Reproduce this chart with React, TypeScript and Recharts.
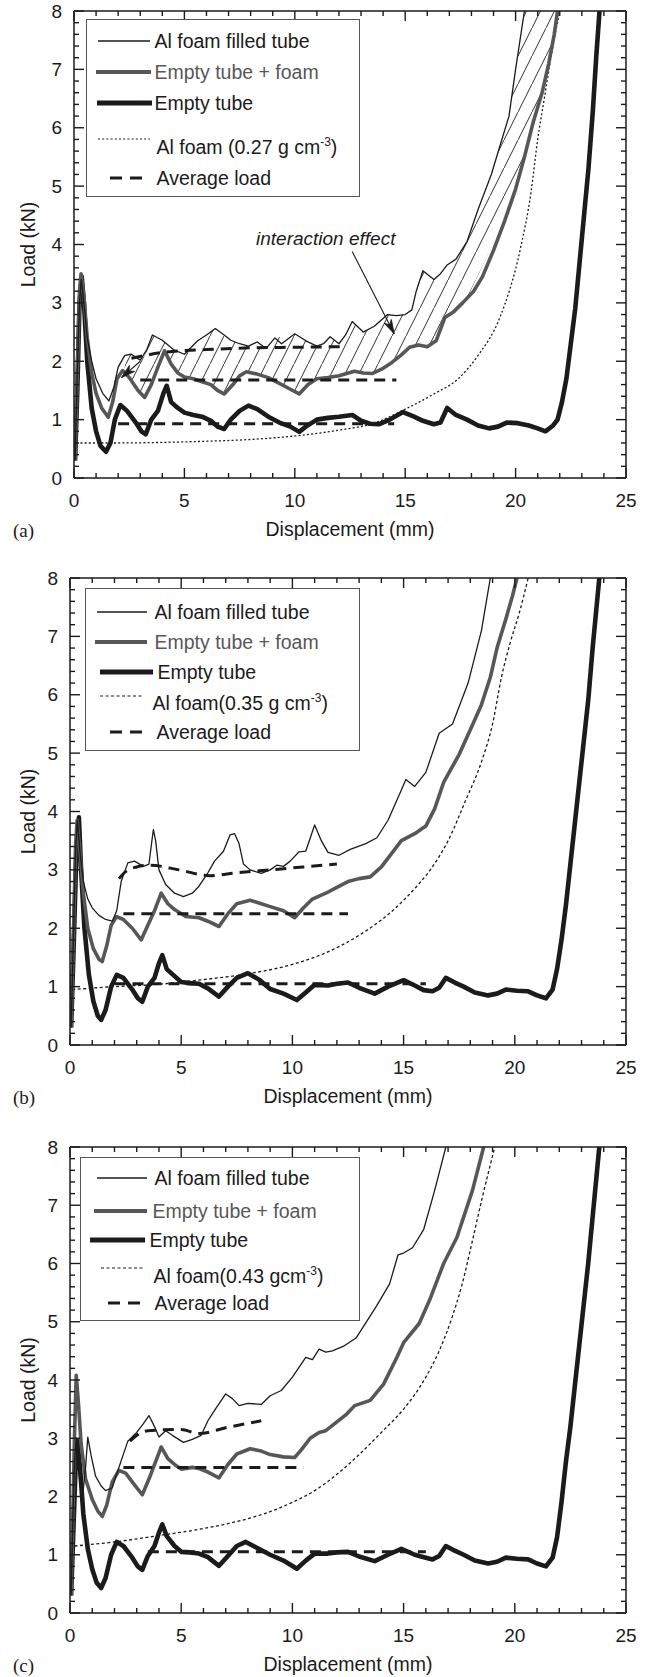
// Tres paneles carga-desplazamiento (a, b, c): tubo vacío, tubo relleno de espuma de Al,
// suma tubo+espuma, espuma sola y cargas medias. Marcas de eje hacia dentro en los 4 lados.
import {
  ComposedChart,
  Line,
  Area,
  XAxis,
  YAxis,
  Legend,
  ReferenceLine,
  ReferenceDot,
} from "recharts";

const INK = "#1b1b1b";
const GREY = "#575757";
const FONT = '"Liberation Sans", Arial, Helvetica, sans-serif';
const SERIF = '"Liberation Serif", "Times New Roman", serif';

type XY = [number, number];
const pts = (a: XY[]) => a.map(([x, y]) => ({ x, y }));

// ---------- panel (a): 0.27 g cm-3 ----------
const FILLED_A: XY[] = [
  [0.05, 0.3], [0.15, 1.8], [0.25, 3.0], [0.33, 3.4], [0.45, 3.0], [0.6, 2.4], [0.8, 2.0], [1.0, 1.7],
  [1.3, 1.45], [1.58, 1.32], [1.8, 1.55], [2.0, 1.9], [2.3, 2.1], [2.6, 2.12], [3.0, 2.02], [3.3, 2.2],
  [3.55, 2.45], [4.0, 2.36], [4.5, 2.2], [5.0, 2.12], [5.6, 2.35], [6.0, 2.45], [6.4, 2.56], [6.8, 2.45],
  [7.1, 2.36], [7.5, 2.3], [7.9, 2.26], [8.3, 2.33], [8.7, 2.22], [9.1, 2.4], [9.4, 2.3], [10.0, 2.47],
  [10.5, 2.35], [11.0, 2.26], [11.3, 2.3], [11.6, 2.42], [12.0, 2.3], [12.3, 2.45], [12.6, 2.68],
  [13.1, 2.5], [13.6, 2.6], [14.2, 2.8], [14.6, 2.78], [15.0, 2.8], [15.3, 2.88], [15.5, 3.2],
  [15.8, 3.55], [16.3, 3.4], [16.6, 3.5], [16.9, 3.65], [17.3, 3.75], [17.8, 4.05], [18.3, 4.6],
  [18.9, 5.2], [19.3, 5.7], [19.7, 6.2], [20.0, 7.0], [20.2, 7.5], [20.4, 8.0],
];
const SUM_A: XY[] = [
  [0.05, 0.3], [0.15, 1.8], [0.25, 3.2], [0.32, 3.5], [0.45, 3.1], [0.6, 2.4], [0.8, 1.8], [1.0, 1.45],
  [1.25, 1.2], [1.55, 1.04], [1.75, 1.3], [1.95, 1.7], [2.2, 1.84], [2.5, 1.72], [2.9, 1.5], [3.2, 1.38],
  [3.5, 1.6], [3.8, 1.9], [4.1, 2.18], [4.4, 1.95], [4.7, 1.8], [5.0, 1.73], [5.4, 1.7], [5.8, 1.65],
  [6.2, 1.6], [6.5, 1.5], [6.8, 1.44], [7.2, 1.6], [7.5, 1.75], [7.8, 1.82], [8.3, 1.78], [8.8, 1.72],
  [9.3, 1.62], [9.8, 1.52], [10.2, 1.44], [10.6, 1.6], [11.0, 1.7], [11.5, 1.72], [12.0, 1.75],
  [12.7, 1.83], [13.1, 1.8], [13.5, 1.79], [14.0, 1.88], [14.4, 1.98], [14.8, 2.1], [15.2, 2.24],
  [15.6, 2.28], [16.0, 2.25], [16.4, 2.35], [16.8, 2.75], [17.2, 2.85], [17.6, 3.0], [18.1, 3.2],
  [18.5, 3.45], [19.0, 3.9], [19.5, 4.4], [20.0, 4.95], [20.4, 5.5], [20.8, 6.1], [21.2, 6.6],
  [21.5, 7.1], [21.75, 7.6], [21.9, 8.0],
];
const EMPTY_A: XY[] = [
  [0.05, 0.3], [0.15, 1.5], [0.25, 3.0], [0.35, 3.45], [0.45, 3.0], [0.6, 2.0], [0.8, 1.2], [1.0, 0.8],
  [1.2, 0.55], [1.45, 0.45], [1.65, 0.6], [1.85, 1.0], [2.1, 1.25], [2.4, 1.15], [2.8, 0.95], [3.05, 0.8],
  [3.25, 0.75], [3.5, 1.0], [3.8, 1.15], [4.05, 1.45], [4.2, 1.58], [4.4, 1.3], [4.7, 1.2], [5.0, 1.12],
  [5.4, 1.08], [5.8, 1.05], [6.2, 0.98], [6.5, 0.88], [6.8, 0.84], [7.1, 1.0], [7.5, 1.15], [7.9, 1.24],
  [8.3, 1.18], [8.8, 1.05], [9.3, 0.95], [9.8, 0.88], [10.2, 0.79], [10.5, 0.88], [11.0, 1.0],
  [11.5, 1.03], [12.0, 1.05], [12.6, 1.08], [13.0, 0.98], [13.4, 0.93], [13.8, 0.92], [14.3, 1.0],
  [14.9, 1.13], [15.4, 1.05], [15.8, 0.98], [16.3, 0.92], [16.6, 0.95], [16.9, 1.2], [17.3, 1.08],
  [17.8, 1.0], [18.3, 0.9], [18.8, 0.85], [19.2, 0.88], [19.6, 0.95], [20.1, 0.94], [20.6, 0.9],
  [21.0, 0.85], [21.35, 0.8], [21.7, 0.9], [21.9, 1.0], [22.1, 1.3], [22.3, 1.7], [22.5, 2.3],
  [22.7, 2.9], [22.9, 3.7], [23.1, 4.5], [23.3, 5.3], [23.5, 6.3], [23.65, 7.2], [23.8, 8.0],
];
const FOAM_A: XY[] = [
  [0.1, 0.6], [2, 0.6], [4, 0.61], [6, 0.63], [8, 0.66], [10, 0.72], [12, 0.82], [13.6, 0.94],
  [15, 1.18], [16.3, 1.44], [17.4, 1.7], [18.3, 2.1], [19.3, 2.76], [20.2, 3.9], [20.7, 4.9],
  [21.0, 5.8], [21.3, 6.5], [21.6, 7.2], [22.0, 8.0],
];
const AVG_A1: XY[] = [[2.6, 2.05], [4, 2.15], [6, 2.2], [8, 2.23], [10, 2.24], [12.1, 2.25]];
const AVG_A2: XY[] = [[3.0, 1.68], [14.6, 1.68]];
const AVG_A3: XY[] = [[2.0, 0.93], [14.5, 0.93]];
// zona rayada "interaction effect": [x, inferior (tubo+espuma), superior (relleno)]
const HATCH_A: [number, number, number][] = [
  [2.3, 1.82, 2.05], [2.6, 1.7, 2.12], [3.0, 1.48, 2.02], [3.2, 1.38, 2.1], [3.55, 1.65, 2.45],
  [4.1, 2.18, 2.33], [4.5, 1.92, 2.2], [5.0, 1.73, 2.12], [5.6, 1.68, 2.35], [6.4, 1.55, 2.56],
  [6.8, 1.44, 2.45], [7.1, 1.58, 2.36], [7.8, 1.82, 2.26], [8.7, 1.74, 2.22], [9.1, 1.68, 2.4],
  [10.0, 1.5, 2.47], [10.2, 1.44, 2.44], [11.0, 1.7, 2.26], [11.6, 1.73, 2.42], [12.0, 1.75, 2.3],
  [12.6, 1.82, 2.68], [13.1, 1.8, 2.5], [13.6, 1.8, 2.6], [14.2, 1.9, 2.8], [15.0, 2.15, 2.8],
  [15.5, 2.27, 3.2], [15.8, 2.27, 3.55], [16.3, 2.3, 3.4], [16.9, 2.78, 3.65], [17.8, 3.08, 4.05],
  [18.9, 3.95, 5.2], [19.7, 4.75, 6.2], [20.4, 5.5, 8.0], [21.2, 6.6, 8.0], [21.9, 8.0, 8.0],
];

// ---------- panel (b): 0.35 g cm-3 ----------
const FILLED_B: XY[] = [
  [0.05, 0.3], [0.15, 1.8], [0.25, 3.3], [0.33, 3.85], [0.45, 3.3], [0.6, 2.8], [0.8, 2.5], [1.0, 2.35],
  [1.3, 2.22], [1.6, 2.15], [1.9, 2.12], [2.1, 2.3], [2.3, 2.8], [2.6, 3.12], [2.9, 3.15], [3.3, 3.06],
  [3.55, 3.1], [3.7, 3.55], [3.75, 3.69], [3.85, 3.5], [4.0, 3.0], [4.3, 2.75], [4.7, 2.6], [5.1, 2.54],
  [5.5, 2.6], [5.8, 2.72], [6.2, 2.95], [6.5, 3.15], [6.9, 3.32], [7.2, 3.6], [7.4, 3.62], [7.6, 3.45],
  [7.8, 3.1], [8.1, 3.0], [8.6, 2.94], [9.0, 3.0], [9.3, 3.08], [9.6, 3.06], [9.9, 3.15], [10.3, 3.31],
  [10.6, 3.32], [11.0, 3.77], [11.3, 3.5], [11.6, 3.3], [12.1, 3.25], [12.6, 3.35], [13.3, 3.45],
  [13.8, 3.55], [14.3, 3.85], [14.9, 4.37], [15.1, 4.55], [15.5, 4.43], [16.0, 4.67], [16.6, 5.34],
  [17.2, 5.5], [17.9, 6.2], [18.5, 7.1], [18.9, 8.0],
];
const SUM_B: XY[] = [
  [0.05, 0.3], [0.15, 1.8], [0.25, 3.4], [0.32, 3.85], [0.45, 3.3], [0.6, 2.6], [0.8, 2.0], [1.05, 1.65],
  [1.3, 1.47], [1.45, 1.43], [1.65, 1.7], [1.85, 2.05], [2.1, 2.2], [2.4, 2.15], [2.8, 2.0], [3.2, 1.8],
  [3.5, 2.05], [3.8, 2.3], [4.1, 2.6], [4.4, 2.42], [4.7, 2.32], [5.2, 2.2], [5.8, 2.18], [6.2, 2.12],
  [6.7, 2.03], [7.1, 2.25], [7.5, 2.42], [8.1, 2.48], [8.6, 2.42], [9.0, 2.37], [9.6, 2.3], [10.1, 2.18],
  [10.5, 2.35], [10.9, 2.5], [11.5, 2.6], [12.0, 2.7], [12.5, 2.8], [13.0, 2.85], [13.5, 2.88],
  [14.0, 3.05], [14.5, 3.3], [14.9, 3.5], [15.5, 3.62], [16.0, 3.75], [16.4, 4.05], [16.8, 4.5],
  [17.5, 4.98], [18.0, 5.4], [18.5, 5.83], [18.9, 6.3], [19.2, 6.8], [19.6, 7.3], [19.9, 7.7], [20.1, 8.0],
];
const EMPTY_B: XY[] = [
  [0.05, 0.3], [0.15, 1.5], [0.28, 3.2], [0.4, 3.9], [0.5, 3.0], [0.65, 2.0], [0.85, 1.2], [1.05, 0.75],
  [1.25, 0.5], [1.4, 0.43], [1.6, 0.6], [1.85, 1.0], [2.1, 1.2], [2.4, 1.15], [2.8, 0.95], [3.05, 0.8],
  [3.25, 0.74], [3.5, 1.0], [3.8, 1.15], [4.0, 1.4], [4.15, 1.54], [4.35, 1.3], [4.7, 1.18], [5.0, 1.08],
  [5.4, 1.06], [5.8, 1.05], [6.2, 0.97], [6.7, 0.83], [7.1, 1.0], [7.5, 1.15], [8.0, 1.23], [8.5, 1.12],
  [9.0, 0.96], [9.6, 0.88], [10.2, 0.77], [10.6, 0.9], [11.0, 1.03], [11.6, 1.02], [12.0, 1.05],
  [12.5, 1.07], [13.0, 0.98], [13.7, 0.88], [14.3, 1.0], [15.0, 1.11], [15.5, 1.02], [15.9, 0.94],
  [16.3, 0.92], [16.6, 0.98], [16.9, 1.15], [17.3, 1.07], [17.7, 1.0], [18.2, 0.9], [18.8, 0.85],
  [19.2, 0.88], [19.6, 0.95], [20.1, 0.93], [20.6, 0.92], [21.0, 0.85], [21.4, 0.8], [21.7, 0.95],
  [21.9, 1.3], [22.1, 1.8], [22.3, 2.4], [22.5, 3.1], [22.7, 3.8], [22.9, 4.5], [23.1, 5.2],
  [23.3, 5.9], [23.5, 6.8], [23.7, 7.6], [23.8, 8.0],
];
const FOAM_B: XY[] = [
  [0.1, 0.95], [2, 1.0], [4, 1.04], [6, 1.12], [8, 1.22], [10, 1.38], [11.5, 1.58], [13, 1.88],
  [14.5, 2.3], [15.5, 2.68], [16.2, 3.0], [17.0, 3.5], [17.8, 4.2], [18.5, 4.85], [19.0, 5.5],
  [19.4, 6.3], [19.8, 6.9], [20.2, 7.4], [20.6, 8.0],
];
const AVG_B1: XY[] = [
  [2.2, 2.85], [2.5, 2.97], [3.0, 3.05], [3.6, 3.08], [4.9, 3.0], [6.3, 2.9], [7.5, 2.95], [9.0, 3.0],
  [10.5, 3.05], [12.0, 3.1],
];
const AVG_B2: XY[] = [[2.4, 2.25], [12.5, 2.25]];
const AVG_B3: XY[] = [[2.0, 1.05], [16.0, 1.05]];

// ---------- panel (c): 0.43 g cm-3 ----------
const FILLED_C: XY[] = [
  [0.05, 0.3], [0.12, 1.5], [0.2, 2.6], [0.28, 3.0], [0.4, 2.4], [0.55, 1.95], [0.7, 2.5], [0.8, 3.02],
  [0.95, 2.7], [1.15, 2.35], [1.4, 2.18], [1.6, 2.1], [1.9, 2.15], [2.2, 2.5], [2.6, 2.95], [3.0, 3.1],
  [3.3, 3.25], [3.55, 3.39], [3.8, 3.2], [4.0, 3.02], [4.3, 3.13], [4.6, 3.05], [5.1, 2.93], [5.5, 2.98],
  [5.9, 3.05], [6.2, 3.3], [6.5, 3.48], [7.0, 3.76], [7.3, 3.68], [7.6, 3.56], [8.0, 3.6], [8.6, 3.58],
  [9.0, 3.73], [9.5, 3.82], [10.0, 4.05], [10.6, 4.39], [10.9, 4.35], [11.2, 4.53], [11.5, 4.48],
  [11.8, 4.5], [12.3, 4.58], [12.86, 4.72], [13.3, 4.98], [13.8, 5.28], [14.37, 5.65], [14.75, 6.15],
  [15.0, 6.18], [15.4, 6.27], [15.9, 6.58], [16.4, 7.26], [16.9, 8.0],
];
const SUM_C: XY[] = [
  [0.05, 0.3], [0.12, 1.5], [0.2, 3.0], [0.28, 4.08], [0.38, 3.6], [0.5, 2.9], [0.7, 2.3], [1.0, 1.95],
  [1.25, 1.75], [1.45, 1.66], [1.65, 1.85], [1.9, 2.25], [2.2, 2.45], [2.5, 2.4], [2.9, 2.2], [3.25, 2.03],
  [3.55, 2.3], [3.85, 2.6], [4.1, 2.85], [4.4, 2.65], [4.7, 2.55], [5.0, 2.47], [5.5, 2.5], [5.8, 2.48],
  [6.2, 2.42], [6.7, 2.32], [7.1, 2.55], [7.5, 2.73], [8.1, 2.82], [8.6, 2.78], [9.0, 2.72], [9.6, 2.68],
  [10.1, 2.67], [10.4, 2.8], [10.8, 3.0], [11.2, 3.1], [11.5, 3.13], [12.0, 3.28], [12.4, 3.4],
  [12.8, 3.56], [13.5, 3.65], [14.1, 3.93], [14.7, 4.39], [15.0, 4.64], [15.7, 4.97], [16.2, 5.4],
  [16.8, 6.0], [17.4, 6.45], [18.1, 7.26], [18.6, 8.0],
];
const EMPTY_C: XY[] = [
  [0.05, 0.3], [0.15, 1.4], [0.25, 2.5], [0.33, 2.95], [0.45, 2.5], [0.6, 1.7], [0.8, 1.1], [1.0, 0.75],
  [1.2, 0.52], [1.4, 0.43], [1.6, 0.6], [1.85, 1.0], [2.1, 1.22], [2.4, 1.15], [2.8, 0.95], [3.05, 0.8],
  [3.25, 0.74], [3.5, 0.98], [3.8, 1.15], [4.0, 1.38], [4.15, 1.52], [4.35, 1.32], [4.7, 1.15],
  [5.0, 1.05], [5.4, 1.04], [5.8, 1.02], [6.2, 0.96], [6.7, 0.81], [7.1, 0.98], [7.5, 1.15], [7.9, 1.22],
  [8.4, 1.12], [9.0, 1.0], [9.6, 0.9], [10.2, 0.76], [10.6, 0.9], [11.0, 1.02], [11.6, 1.02],
  [12.0, 1.04], [12.5, 1.05], [13.0, 0.97], [13.7, 0.89], [14.3, 1.0], [14.9, 1.1], [15.5, 1.0],
  [16.0, 0.95], [16.3, 0.92], [16.6, 0.98], [16.9, 1.15], [17.3, 1.07], [17.7, 1.0], [18.2, 0.9],
  [18.8, 0.85], [19.2, 0.88], [19.6, 0.95], [20.1, 0.93], [20.6, 0.92], [21.0, 0.85], [21.4, 0.8],
  [21.7, 0.95], [21.9, 1.3], [22.1, 1.9], [22.3, 2.6], [22.5, 3.2], [22.7, 3.9], [22.9, 4.6],
  [23.1, 5.3], [23.3, 6.0], [23.5, 6.8], [23.7, 7.6], [23.8, 8.0],
];
const FOAM_C: XY[] = [
  [0.2, 1.15], [2, 1.22], [4, 1.33], [6, 1.45], [8, 1.62], [9, 1.74], [10, 1.9], [11, 2.1], [12, 2.38],
  [13, 2.72], [14, 3.1], [15, 3.5], [16, 4.05], [16.6, 4.5], [17.2, 5.1], [17.6, 5.6], [18.1, 6.4],
  [18.5, 7.07], [19.1, 8.0],
];
const AVG_C1: XY[] = [[2.7, 2.95], [3.0, 3.05], [3.5, 3.13], [5.0, 3.15], [5.8, 3.08], [7.0, 3.18], [8.6, 3.3]];
const AVG_C2: XY[] = [[2.4, 2.5], [10.5, 2.5]];
const AVG_C3: XY[] = [[3.5, 1.05], [16.0, 1.05]];

const LEGEND_LABELS = ["Al foam filled tube", "Empty tube + foam", "Empty tube", "", "Average load"];
const FOAM_LABELS = ["Al foam (0.27 g cm", "Al foam(0.35 g cm", "Al foam(0.43 gcm"];

const X_MAJOR = [0, 5, 10, 15, 20, 25];
const X_MINOR = Array.from({ length: 26 }, (_, i) => i);
const Y_MAJOR = [0, 1, 2, 3, 4, 5, 6, 7, 8];
const Y_MINOR = Array.from({ length: 41 }, (_, i) => i / 5);
const X_MAX = 25;
const Y_MAX = 8;

// ---------- estilos ----------
const SERIES = {
  filled: { stroke: INK, strokeWidth: 1.3 },
  sum: { stroke: GREY, strokeWidth: 3.6 },
  empty: { stroke: INK, strokeWidth: 4.6 },
  avg: { stroke: INK, strokeWidth: 3, strokeDasharray: "11 7" },
};
const axisLine = { stroke: INK, strokeWidth: 1.5 };
const tickText = { fontFamily: FONT, fontSize: 19, fill: INK };
const THIN = 0.01; // Recharts no dibuja ejes de tamaño 0

/* eslint-disable @typescript-eslint/no-explicit-any */
const NoTick = () => <g />;
const BottomLabel = (p: any) => (
  <text x={p.x} y={p.y + 22} textAnchor="middle" dominantBaseline="central" {...tickText}>
    {p.payload.value}
  </text>
);
const LeftLabel = (p: any) => (
  <text x={p.x - 12} y={p.y} textAnchor="end" dominantBaseline="central" {...tickText}>
    {p.payload.value}
  </text>
);

type Seg = [{ x: number; y: number }, { x: number; y: number }];

type Row = { y: number; sy?: number; sx: [number, number]; tx: number };
type LegendCfg = { left: number; top: number; w: number; h: number; rows: Row[] };
type PanelCfg = {
  letter: string;
  top: number;
  plotTop: number;
  plotBottom: number;
  plotLeft: number;
  plotRight: number;
  filled: XY[];
  sum: XY[];
  empty: XY[];
  foam: XY[];
  foamDash: string;
  avg: XY[][];
  foamLabel: string;
  legend: LegendCfg;
  hatch?: [number, number, number][];
};

// marcas de x (abajo/arriba) como segmentos en unidades de datos
function xTickSegments(p: PanelCfg): Seg[] {
  const dy = (px: number) => (px * Y_MAX) / (p.plotBottom - p.plotTop);
  const segs: Seg[] = [];
  X_MINOR.forEach((v) => {
    const l = dy(X_MAJOR.includes(v) ? 10 : 5);
    segs.push([{ x: v, y: 0.0001 }, { x: v, y: l }]);
    segs.push([{ x: v, y: Y_MAX - 0.0001 }, { x: v, y: Y_MAX - l }]);
  });
  return segs;
}

const PANELS: PanelCfg[] = [
  {
    letter: "(a)", top: 0, plotTop: 11, plotBottom: 478, plotLeft: 74, plotRight: 626,
    filled: FILLED_A, sum: SUM_A, empty: EMPTY_A, foam: FOAM_A, foamDash: "2 2.2",
    avg: [AVG_A1, AVG_A2, AVG_A3], foamLabel: FOAM_LABELS[0], hatch: HATCH_A,
    legend: {
      left: 86, top: 19, w: 274, h: 178,
      rows: [
        { y: 22, sx: [12, 64], tx: 69 },
        { y: 53, sx: [10, 65], tx: 69 },
        { y: 84, sx: [11, 66], tx: 69 },
        { y: 128, sy: 120, sx: [12, 64], tx: 71 },
        { y: 159, sx: [24, 62], tx: 71 },
      ],
    },
  },
  {
    letter: "(b)", top: 560, plotTop: 578, plotBottom: 1045, plotLeft: 70, plotRight: 626,
    filled: FILLED_B, sum: SUM_B, empty: EMPTY_B, foam: FOAM_B, foamDash: "3 2.5",
    avg: [AVG_B1, AVG_B2, AVG_B3], foamLabel: FOAM_LABELS[1],
    legend: {
      left: 85, top: 588, w: 275, h: 163,
      rows: [
        { y: 24, sx: [12, 62], tx: 70 },
        { y: 54, sx: [10, 62], tx: 70 },
        { y: 84, sx: [15, 68], tx: 73 },
        { y: 115, sy: 108, sx: [15, 59], tx: 68 },
        { y: 144, sx: [25, 64], tx: 72 },
      ],
    },
  },
  {
    letter: "(c)", top: 1129, plotTop: 1147, plotBottom: 1613, plotLeft: 70, plotRight: 626,
    filled: FILLED_C, sum: SUM_C, empty: EMPTY_C, foam: FOAM_C, foamDash: "3 2.5",
    avg: [AVG_C1, AVG_C2, AVG_C3], foamLabel: FOAM_LABELS[2],
    legend: {
      left: 80, top: 1157, w: 280, h: 164,
      rows: [
        { y: 21, sx: [17, 67], tx: 75 },
        { y: 54, sx: [14, 67], tx: 73 },
        { y: 83, sx: [10, 65], tx: 70 },
        { y: 119, sy: 111, sx: [21, 65], tx: 74 },
        { y: 146, sx: [28, 66], tx: 75 },
      ],
    },
  },
];

// marcas de y (izquierda/derecha): capa svg sobre el gráfico con la misma escala lineal que el eje
function YTickOverlay({ p }: { p: PanelCfg }) {
  const sy = (v: number) => p.plotBottom - p.top - (v / Y_MAX) * (p.plotBottom - p.plotTop);
  return (
    <svg width={653} height={548} style={{ position: "absolute", left: 0, top: 0, pointerEvents: "none" }}>
      <g stroke={INK} strokeWidth={1.4}>
        {Y_MINOR.map((v, i) => {
          const len = i % 5 === 0 ? 10 : 5;
          const y = sy(v);
          return (
            <g key={i}>
              <line x1={p.plotLeft} x2={p.plotLeft + len} y1={y} y2={y} />
              <line x1={p.plotRight} x2={p.plotRight - len} y1={y} y2={y} />
            </g>
          );
        })}
      </g>
    </svg>
  );
}

function LegendBox({ p }: { p: PanelCfg }) {
  const lg = p.legend;
  const styles = [
    SERIES.filled,
    { ...SERIES.sum, strokeWidth: 4.2 },
    { ...SERIES.empty, strokeWidth: 5.2 },
    { stroke: INK, strokeWidth: 1.2, strokeDasharray: p.foamDash },
    { ...SERIES.avg, strokeDasharray: "12 8" },
  ];
  return (
    <div
      style={{
        position: "relative",
        width: lg.w,
        height: lg.h,
        boxSizing: "border-box",
        border: `1.5px solid ${GREY}`,
        background: "#fff",
        fontFamily: FONT,
        fontSize: 19.5,
      }}
    >
      <svg width={lg.w} height={lg.h} style={{ position: "absolute", left: -1.5, top: -1.5 }}>
        {lg.rows.map((r, i) => (
          <line key={i} x1={r.sx[0]} x2={r.sx[1]} y1={r.sy ?? r.y} y2={r.sy ?? r.y} {...styles[i]} />
        ))}
      </svg>
      {lg.rows.map((r, i) => (
        <div
          key={i}
          style={{
            position: "absolute",
            left: r.tx - 1.5,
            top: r.y - 13.5,
            lineHeight: "24px",
            whiteSpace: "nowrap",
            color: i === 1 ? GREY : INK,
          }}
        >
          {i === 3 ? (
            <>
              {p.foamLabel}
              <sup style={{ fontSize: 12, verticalAlign: 0, position: "relative", top: -8 }}>-3</sup>)
            </>
          ) : (
            LEGEND_LABELS[i]
          )}
        </div>
      ))}
    </div>
  );
}

const axisBase = { type: "number" as const, allowDataOverflow: true, interval: 0 as const, tickLine: false };

function Panel({ p }: { p: PanelCfg }) {
  const H = 548;
  const hatch = p.hatch?.map(([x, lo, hi]) => ({ x, band: [lo, hi] }));
  const arrow = (sp: any) => (
    <line x1={sp.x1} y1={sp.y1} x2={sp.x2} y2={sp.y2} stroke={INK} strokeWidth={1.1} markerEnd="url(#arrowHead)" />
  );
  const tickLineShape = (sp: any) => (
    <line x1={sp.x1} y1={sp.y1} x2={sp.x2} y2={sp.y2} stroke={INK} strokeWidth={1.4} />
  );
  return (
    <div style={{ position: "absolute", left: 0, top: p.top, width: 653, height: H }}>
      <ComposedChart
        width={653}
        height={H}
        margin={{
          top: p.plotTop - p.top - THIN,
          right: 653 - p.plotRight - THIN,
          bottom: H - (p.plotBottom - p.top) - THIN,
          left: p.plotLeft - THIN,
        }}
      >
        <XAxis
          {...axisBase}
          xAxisId="x"
          dataKey="x"
          domain={[0, X_MAX]}
          ticks={X_MAJOR}
          tickSize={0}
          tickMargin={0}
          height={THIN}
          axisLine={axisLine}
          tick={BottomLabel}
          label={{
            content: (lp: any) => {
              const vb = lp.viewBox;
              return (
                <g>
                  <text
                    x={(p.plotLeft + p.plotRight) / 2}
                    y={vb.y + 51}
                    textAnchor="middle"
                    dominantBaseline="central"
                    fontFamily={FONT}
                    fontSize={19.5}
                    fill={INK}
                  >
                    Displacement (mm)
                  </text>
                  <text x={13} y={vb.y + 52} dominantBaseline="central" fontFamily={SERIF} fontSize={19} fill={INK}>
                    {p.letter}
                  </text>
                </g>
              );
            },
          }}
        />
        <XAxis {...axisBase} xAxisId="t" orientation="top" domain={[0, X_MAX]} ticks={X_MAJOR} height={THIN}
          axisLine={axisLine} tick={NoTick} />
        <YAxis
          {...axisBase}
          yAxisId="y"
          domain={[0, Y_MAX]}
          ticks={Y_MAJOR}
          tickSize={0}
          tickMargin={0}
          width={THIN}
          axisLine={axisLine}
          tick={LeftLabel}
          label={{
            content: (lp: any) => {
              const vb = lp.viewBox;
              const cy = vb.y + vb.height / 2;
              return (
                <text
                  x={28}
                  y={cy}
                  transform={`rotate(-90, 28, ${cy})`}
                  textAnchor="middle"
                  dominantBaseline="central"
                  fontFamily={FONT}
                  fontSize={19.5}
                  fill={INK}
                >
                  Load (kN)
                </text>
              );
            },
          }}
        />
        <YAxis {...axisBase} yAxisId="r" orientation="right" domain={[0, Y_MAX]} ticks={Y_MAJOR} width={THIN}
          axisLine={axisLine} tick={NoTick} />

        {hatch && (
          <Area
            xAxisId="x"
            yAxisId="y"
            data={hatch}
            dataKey="band"
            type="linear"
            stroke="none"
            fill="url(#hatch)"
            fillOpacity={1}
            isAnimationActive={false}
            legendType="none"
          />
        )}
        <Line
          xAxisId="x"
          yAxisId="y"
          data={pts(p.foam)}
          dataKey="y"
          type="monotone"
          stroke={INK}
          strokeWidth={1.3}
          strokeDasharray={p.foamDash}
          dot={false}
          activeDot={false}
          isAnimationActive={false}
        />
        <Line xAxisId="x" yAxisId="y" data={pts(p.empty)} dataKey="y" type="linear" {...SERIES.empty}
          strokeLinejoin="round" dot={false} activeDot={false} isAnimationActive={false} />
        <Line xAxisId="x" yAxisId="y" data={pts(p.sum)} dataKey="y" type="linear" {...SERIES.sum}
          strokeLinejoin="round" dot={false} activeDot={false} isAnimationActive={false} />
        <Line xAxisId="x" yAxisId="y" data={pts(p.filled)} dataKey="y" type="linear" {...SERIES.filled}
          strokeLinejoin="round" dot={false} activeDot={false} isAnimationActive={false} />
        {p.avg.map((a, i) => (
          <Line
            key={i}
            xAxisId="x"
            yAxisId="y"
            data={pts(a)}
            dataKey="y"
            type="monotone"
            {...SERIES.avg}
            dot={false}
            activeDot={false}
            isAnimationActive={false}
          />
        ))}

        {xTickSegments(p).map((s, i) => (
          <ReferenceLine key={`tk${i}`} xAxisId="x" yAxisId="y" segment={s} shape={tickLineShape} />
        ))}

        {p.hatch && (
          <ReferenceLine xAxisId="x" yAxisId="y" segment={[{ x: 12.6, y: 3.88 }, { x: 14.5, y: 2.47 }]} shape={arrow} />
        )}
        {p.hatch && (
          <ReferenceLine xAxisId="x" yAxisId="y" segment={[{ x: 3.0, y: 2.0 }, { x: 2.15, y: 1.72 }]} shape={arrow} />
        )}
        {p.hatch && (
          <ReferenceDot
            xAxisId="x"
            yAxisId="y"
            x={11.4}
            y={4.1}
            r={0}
            shape={(sp: any) => (
              <text x={sp.cx} y={sp.cy} textAnchor="middle" dominantBaseline="central" fontFamily={FONT}
                fontSize={19} fontStyle="italic" fill={INK}>
                interaction effect
              </text>
            )}
          />
        )}
        <Legend
          layout="vertical"
          align="center"
          verticalAlign="middle"
          wrapperStyle={{
            left: p.legend.left,
            top: p.legend.top - p.top,
            width: p.legend.w,
            height: p.legend.h,
          }}
          content={() => <LegendBox p={p} />}
        />
      </ComposedChart>
      <YTickOverlay p={p} />
    </div>
  );
}

export default function App() {
  return (
    <div style={{ position: "absolute", left: 0, top: 0, width: 653, height: 1677, background: "#fff" }}>
      <svg width={0} height={0} style={{ position: "absolute" }}>
        <defs>
          <pattern id="hatch" patternUnits="userSpaceOnUse" width={14} height={28}>
            <line x1={-1} y1={30} x2={15} y2={-2} stroke={INK} strokeWidth={0.9} />
          </pattern>
          <marker id="arrowHead" markerUnits="userSpaceOnUse" markerWidth={16} markerHeight={10} refX={15}
            refY={5} orient="auto">
            <path d="M1,1 L15,5 L1,9 L5,5 Z" fill={INK} stroke={INK} strokeWidth={0.8} />
          </marker>
        </defs>
      </svg>
      {PANELS.map((p) => (
        <Panel key={p.letter} p={p} />
      ))}
    </div>
  );
}
